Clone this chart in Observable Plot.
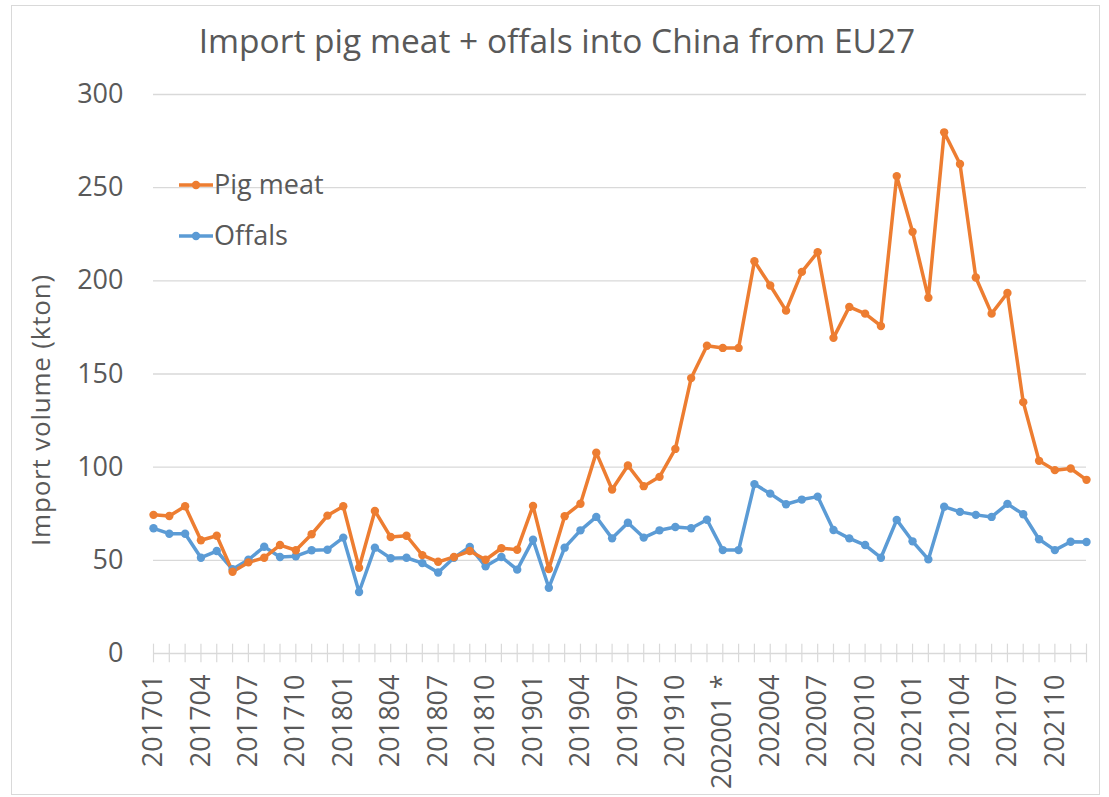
<!DOCTYPE html>
<html>
<head>
<meta charset="utf-8">
<script src="https://cdn.jsdelivr.net/npm/d3@7"></script>
<script src="https://cdn.jsdelivr.net/npm/@observablehq/plot@0.6"></script>
<style>
  html, body { margin: 0; padding: 0; background: #fff; }
  #wrap { position: relative; width: 1109px; height: 797px; overflow: hidden; font-family: "Open Sans", sans-serif; color: #595959; }
  #border { position: absolute; left: 11px; top: 5px; width: 1089px; height: 790px; border: 1px solid #d9d9d9; box-sizing: border-box; }
  #title { position: absolute; left: 557px; top: 24px; transform: translateX(-50%); white-space: nowrap; font-size: 33.5px; line-height: 1; }
  #ytitle { position: absolute; left: 40px; top: 410px; transform: translate(-50%, -50%) rotate(-90deg); white-space: nowrap; font-size: 26px; line-height: 1; letter-spacing: 0.8px; }
  #chart { position: absolute; left: 0; top: 0; }
  #legend { position: absolute; left: 0; top: 0; }
</style>
</head>
<body>
<div id="wrap">
  <div id="border"></div>
  <div id="chart"></div>
  <div id="title">Import pig meat + offals into China from EU27</div>
  <div id="ytitle">Import volume (kton)</div>
  <svg id="legend" width="400" height="280"></svg>
</div>
<script>
const months = [
  "201701","201702","201703","201704","201705","201706","201707","201708","201709","201710","201711","201712",
  "201801","201802","201803","201804","201805","201806","201807","201808","201809","201810","201811","201812",
  "201901","201902","201903","201904","201905","201906","201907","201908","201909","201910","201911","201912",
  "202001","202002","202003","202004","202005","202006","202007","202008","202009","202010","202011","202012",
  "202101","202102","202103","202104","202105","202106","202107","202108","202109","202110","202111","202112"
];

const pigMeat = [
  74.4, 73.8, 79.0, 60.8, 63.2, 43.9, 48.9, 51.4, 58.2, 55.4, 64.0, 74.0,
  79.0, 46.0, 76.5, 62.5, 63.2, 52.8, 49.2, 51.8, 55.0, 50.3, 56.5, 55.7,
  79.2, 45.3, 73.7, 80.4, 107.8, 88.0, 100.9, 89.8, 94.8, 109.8, 147.8, 165.2,
  164.0, 164.0, 210.5, 197.5, 184.0, 204.8, 215.4, 169.4, 186.0, 182.4, 175.8, 256.2,
  226.3, 190.9, 279.7, 262.7, 201.8, 182.4, 193.5, 134.9, 103.4, 98.4, 99.3, 93.2
];

const offals = [
  67.2, 64.3, 64.3, 51.4, 55.0, 45.2, 50.3, 57.3, 51.8, 52.2, 55.4, 55.7,
  62.2, 33.0, 56.8, 51.1, 51.4, 48.5, 43.5, 51.4, 57.2, 46.8, 51.8, 45.0,
  61.1, 35.3, 56.8, 66.1, 73.3, 61.8, 70.2, 62.2, 66.1, 67.9, 67.2, 71.8,
  55.5, 55.5, 90.9, 85.8, 80.1, 82.6, 84.2, 66.3, 61.8, 58.2, 51.4, 71.7,
  60.2, 50.5, 78.8, 76.0, 74.4, 73.3, 80.3, 74.7, 61.3, 55.5, 60.0, 59.8
];

const xTickLabels = ["201701","201704","201707","201710","201801","201804","201807","201810",
  "201901","201904","201907","201910","202001","202004","202007","202010",
  "202101","202104","202107","202110"];
const xTickText = {"202001": "202001 *"};
const yTicks = [0, 50, 100, 150, 200, 250, 300];

const seriesNames = ["Pig meat", "Offals"];
const seriesColors = {"Pig meat": "#ED7D31", "Offals": "#5B9BD5"};

const rows = [];
months.forEach((m, i) => {
  rows.push({month: m, series: "Offals", value: offals[i]});
});
months.forEach((m, i) => {
  rows.push({month: m, series: "Pig meat", value: pigMeat[i]});
});

const chart = Plot.plot({
  width: 1109,
  height: 797,
  marginLeft: 153,
  marginRight: 23,
  marginTop: 94,
  marginBottom: 144,
  style: {fontFamily: "'Open Sans', sans-serif", fontSize: "27px", color: "#595959", background: "transparent", overflow: "visible"},
  x: {type: "point", domain: months, padding: 0},
  y: {domain: [0, 300]},
  color: {domain: Object.keys(seriesColors), range: Object.values(seriesColors)},
  marks: [
    Plot.gridY(yTicks.filter(d => d > 0), {stroke: "#d9d9d9", strokeOpacity: 1, strokeWidth: 1.4}),
    Plot.ruleY([0], {stroke: "#d9d9d9", strokeWidth: 1.4}),
    Plot.ruleX(months, {x: d => d, y1: -5, y2: 5, stroke: "#d9d9d9", strokeWidth: 1.2}),
    Plot.axisY(yTicks, {tickSize: 0, tickPadding: 30, label: null, fill: "#595959"}),
    Plot.axisX(xTickLabels, {tickSize: 0, tickPadding: 21, tickRotate: -90, label: null, fill: "#595959",
      tickFormat: d => xTickText[d] || d}),
    Plot.line(rows, {x: "month", y: "value", z: "series", stroke: "series", strokeWidth: 3.5, strokeLinejoin: "round"}),
    Plot.dot(rows, {x: "month", y: "value", fill: "series", r: 4.2, stroke: null})
  ]
});
document.getElementById("chart").appendChild(chart);

// legend
const leg = d3.select("#legend");
const legendY = {"Pig meat": 185, "Offals": 236};
seriesNames.forEach(name => {
  const y = legendY[name];
  const c = seriesColors[name];
  leg.append("line").attr("x1", 179).attr("x2", 213).attr("y1", y).attr("y2", y)
    .attr("stroke", c).attr("stroke-width", 3.5);
  leg.append("circle").attr("cx", 196).attr("cy", y).attr("r", 4.2).attr("fill", c);
  leg.append("text").attr("x", 214).attr("y", y).attr("dy", "0.35em")
    .attr("font-family", "'Open Sans', sans-serif").attr("font-size", 27).attr("fill", "#595959")
    .text(name);
});
</script>
</body>
</html>
